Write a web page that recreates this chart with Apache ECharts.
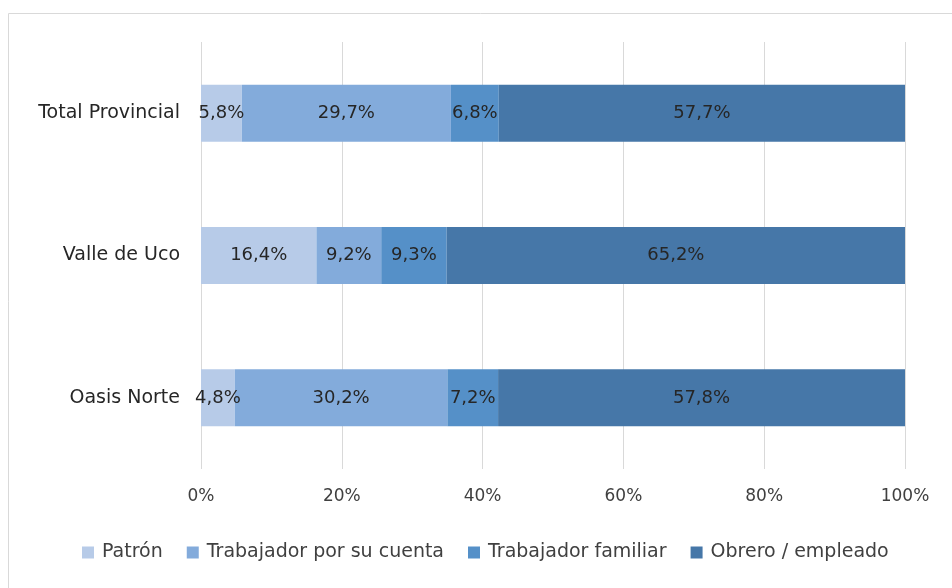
<!DOCTYPE html>
<html>
<head>
<meta charset="utf-8">
<script src="https://cdn.jsdelivr.net/npm/echarts@6/dist/echarts.min.js"></script>
<style>
    html, body { margin: 0; padding: 0; background: #fff; }
    #chart { width: 952px; height: 588px; }
</style>
</head>
<body>
<div id="chart"></div>
<script>
// categorias de abajo hacia arriba (eje y de categoria)
var categories = ["Oasis Norte", "Valle de Uco", "Total Provincial"];
var seriesNames = ["Patrón", "Trabajador por su cuenta", "Trabajador familiar", "Obrero / empleado"];
var patron = [4.8, 16.4, 5.8];
var cuentaPropia = [30.2, 9.2, 29.7];
var familiar = [7.2, 9.3, 6.8];
var obrero = [57.8, 65.2, 57.7];
var xTicks = [0, 20, 40, 60, 80, 100];

var colors = ["#b7cbe8", "#83abdb", "#5590c8", "#4677a8"];
var font = "DejaVu Sans";

function fmt(v) {
    return v.toFixed(1).replace(".", ",") + "%";
}

function makeSeries(name, data, idx) {
    return {
        name: name,
        type: "bar",
        stack: "total",
        data: data,
        barWidth: 57,
        itemStyle: { color: colors[idx] },
        label: {
            show: true,
            position: "inside",
            formatter: function (p) { return fmt(p.value); },
            color: "#262626",
            fontFamily: font,
            fontSize: 18
        },
        emphasis: { disabled: true }
    };
}

var chart = echarts.init(document.getElementById("chart"));
chart.setOption({
    animation: false,
    textStyle: { fontFamily: font },
    graphic: [{
        type: "rect",
        shape: { x: 8.5, y: 13.5, width: 1000, height: 600 },
        style: { fill: "none", stroke: "#d9d9d9", lineWidth: 1 },
        silent: true
    }],
    grid: {
        left: 201,
        right: 47,
        top: 42,
        bottom: 119
    },
    xAxis: {
        type: "value",
        min: 0,
        max: 100,
        interval: 20,
        axisLine: { show: false },
        axisTick: { show: false },
        splitLine: { show: true, lineStyle: { color: "#d9d9d9", width: 1 } },
        axisLabel: {
            color: "#404040",
            fontSize: 17,
            fontFamily: font,
            margin: 19,
            formatter: function (v) { return xTicks.indexOf(v) >= 0 ? v + "%" : ""; }
        }
    },
    yAxis: {
        type: "category",
        data: categories,
        axisLine: { show: false },
        axisTick: { show: false },
        axisLabel: {
            color: "#262626",
            fontSize: 19,
            fontFamily: font,
            margin: 21
        }
    },
    legend: {
        bottom: 21,
        left: 77,
        itemWidth: 12,
        itemHeight: 12,
        itemGap: 24,
        icon: "rect",
        textStyle: { color: "#404040", fontSize: 19, fontFamily: font, padding: [0, 0, 0, 3] },
        data: seriesNames
    },
    series: [
        makeSeries(seriesNames[0], patron, 0),
        makeSeries(seriesNames[1], cuentaPropia, 1),
        makeSeries(seriesNames[2], familiar, 2),
        makeSeries(seriesNames[3], obrero, 3)
    ]
});
</script>
</body>
</html>
